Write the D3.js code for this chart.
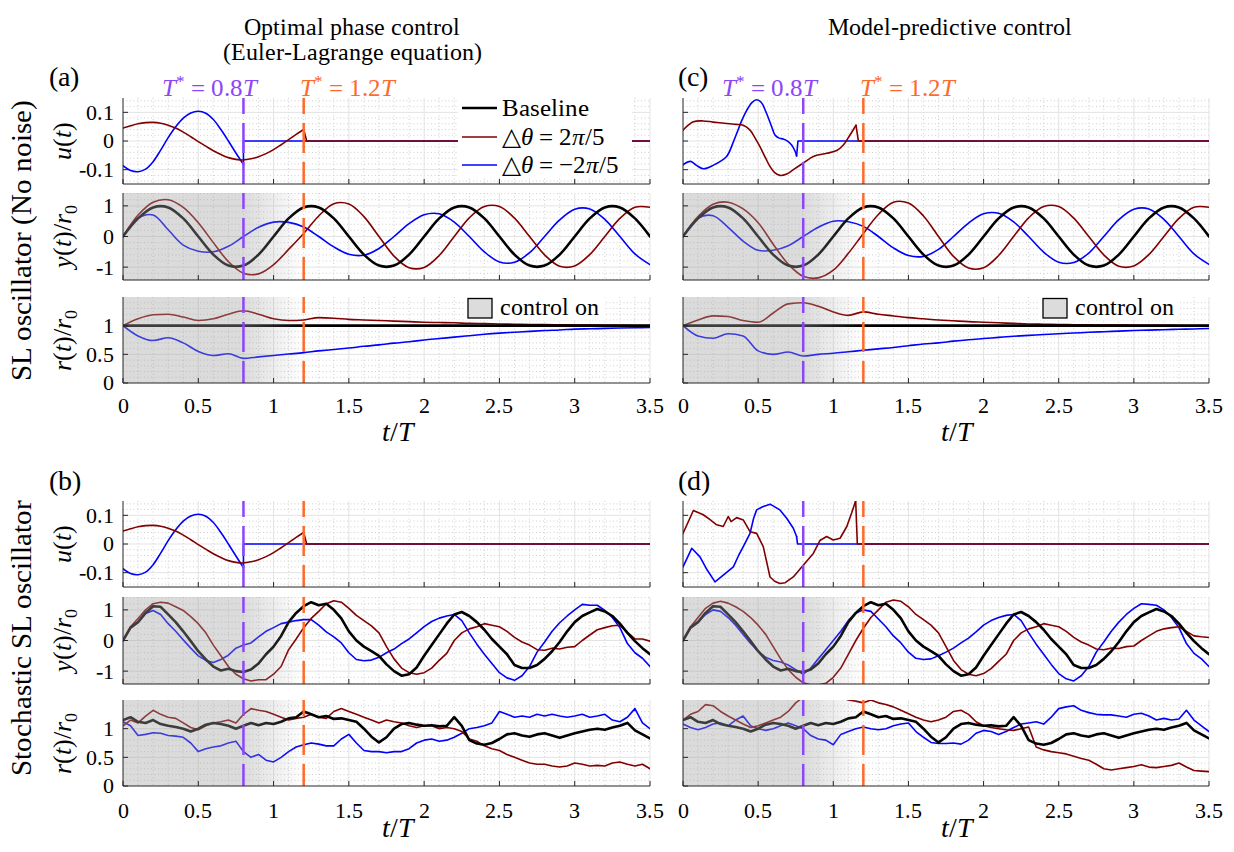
<!DOCTYPE html>
<html><head><meta charset="utf-8">
<script src="https://cdn.jsdelivr.net/npm/d3@7"></script>
<style>
@font-face{font-family:"RefSerif";src:local("Liberation Serif"),local("LiberationSerif"),local("LiberationSerif-Regular"),local("DejaVu Serif"),local("DejaVuSerif"),local("Noto Serif"),local("NotoSerif-Regular"),local("Times New Roman"),local("Tinos");font-style:normal;}
@font-face{font-family:"RefSerif";src:local("Liberation Serif Italic"),local("LiberationSerif-Italic"),local("DejaVu Serif Italic"),local("DejaVuSerif-Italic"),local("Noto Serif Italic"),local("NotoSerif-Italic"),local("Times New Roman Italic");font-style:italic;}
body{margin:0;background:#fff;}
svg text{font-family:"RefSerif","Liberation Serif","DejaVu Serif","Noto Serif","Nimbus Roman","FreeSerif","Times",serif;}
</style>
</head><body>
<svg id="chart" width="1234" height="852"></svg>
<script>
// ---------------- DATA ----------------
const tGrid10 = d3.range(36).map(i => i / 10);   // 0 .. 3.5 step 0.1
const tGrid05 = d3.range(71).map(i => i / 20);   // 0 .. 3.5 step 0.05
const xTicks = [0, 0.5, 1, 1.5, 2, 2.5, 3, 3.5];
const xTickLabels = ["0", "0.5", "1", "1.5", "2", "2.5", "3", "3.5"];
const uTicks = [-0.1, 0, 0.1], uTickLabels = ["-0.1", "0", "0.1"];
const yTicks = [-1, 0, 1], yTickLabels = ["-1", "0", "1"];
const rTicks = [0, 0.5, 1], rTickLabels = ["0", "0.5", "1"];
const switchTimes = [0.8, 1.2];
const legendLabels = ["Baseline", "△θ = 2π/5", "△θ = −2π/5"];

// Control input u(t): optimal phase control (panels a, b)
const uOptRed = [[0,.045],[.05,.053],[.1,.06],[.15,.064],[.2,.065],[.25,.062],[.3,.055],[.35,.045],[.4,.031],[.45,.015],[.5,-.002],[.55,-.018],[.6,-.034],[.65,-.047],[.7,-.058],[.75,-.064],[.8,-.066],[.85,-.062],[.9,-.055],[.95,-.044],[1.0,-.03],[1.05,-.013],[1.1,.005],[1.15,.023],[1.2,.04]];
const uOptRedTail = [[1.2,.04],[1.22,0],[3.5,0]];
const uOptBlue = [[0,-.086],[.05,-.103],[.1,-.107],[.15,-.098],[.2,-.072],[.25,-.032],[.3,.012],[.35,.05],[.4,.08],[.45,.098],[.5,.104],[.55,.097],[.6,.075],[.65,.04],[.7,0],[.75,-.042],[.8,-.082]];
const uOptBlueTail = [[.8,-.082],[.8,0],[3.5,0]];

// Control input u(t): MPC, no noise (panel c)
const uMpcRed = [[0,.038],[.069,.067],[.135,.07],[.2,.066],[.29,.061],[.35,.058],[.401,.055],[.446,.038],[.48,.01],[.512,-.02],[.55,-.06],[.579,-.089],[.61,-.11],[.645,-.12],[.69,-.115],[.734,-.1],[.8,-.077],[.867,-.054],[.956,-.043],[1.023,-.033],[1.067,-.014],[1.11,.02],[1.151,.055]];
const uMpcRedTail = [[1.151,.055],[1.167,0],[3.5,0]];
const uMpcBlue = [[0,-.083],[.05,-.071],[.09,-.085],[.135,-.097],[.2,-.085],[.29,-.054],[.33,-.01],[.357,.026],[.39,.07],[.424,.107],[.46,.135],[.49,.144],[.52,.135],[.557,.095],[.59,.05],[.612,.021],[.64,.01],[.667,.007],[.7,-.002],[.723,-.014],[.745,-.035],[.756,-.052]];
const uMpcBlueTail = [[.756,-.052],[.765,0],[3.5,0]];

// Control input u(t): MPC, stochastic (panel d)
const uMpcNoisyRed = [[0,.037],[.069,.117],[.1,.11],[.135,.102],[.18,.085],[.224,.067],[.268,.061],[.301,.096],[.32,.078],[.357,.092],[.401,.084],[.446,.043],[.49,.037],[.534,-.009],[.56,-.07],[.579,-.115],[.61,-.13],[.645,-.138],[.68,-.135],[.734,-.115],[.8,-.074],[.867,-.033],[.911,.012],[.956,.026],[1.0,.014],[1.045,.02],[1.09,.061],[1.122,.108],[1.149,.151]];
const uMpcNoisyRedTail = [[1.149,.151],[1.16,0],[3.5,0]];
const uMpcNoisyBlue = [[0,-.08],[.058,-.015],[.113,-.045],[.16,-.09],[.213,-.132],[.268,-.109],[.335,-.08],[.37,-.04],[.401,-.009],[.446,.037],[.47,.09],[.49,.119],[.53,.13],[.579,.139],[.645,.119],[.69,.09],[.734,.055],[.756,.026]];
const uMpcNoisyBlueTail = [[.756,.026],[.762,0],[3.5,0]];

// Deterministic oscillator, sampled at tGrid10
const yBase = [0,.59,.95,.95,.59,0,-.59,-.95,-.95,-.59,0,.59,.95,.95,.59,0,-.59,-.95,-.95,-.59,0,.59,.95,.95,.59,0,-.59,-.95,-.95,-.59,0,.59,.95,.95,.59,0];
const rBase = [1,1,1,1,1,1,1,1,1,1,1,1,1,1,1,1,1,1,1,1,1,1,1,1,1,1,1,1,1,1,1,1,1,1,1,1];
const yOptRed = [0,.7,1.12,1.2,.95,.45,-.2,-.82,-1.2,-1.22,-.92,-.42,.1,.67,1.07,1.06,.65,0,-.64,-1.02,-1.01,-.62,0,.61,.98,.98,.6,0,-.6,-.97,-.96,-.59,0,.59,.955,.955];
const yOptBlue = [0,.6,.7,.22,-.28,-.48,-.5,-.32,0,.3,.47,.46,.31,0,-.34,-.58,-.61,-.39,0,.42,.71,.74,.47,0,-.5,-.83,-.84,-.53,0,.54,.89,.9,.56,0,-.57,-.92];
const rOptRed = [1,1.12,1.19,1.2,1.15,1.09,1.12,1.2,1.26,1.2,1.12,1.09,1.1,1.14,1.13,1.11,1.1,1.09,1.08,1.07,1.06,1.055,1.05,1.04,1.035,1.03,1.025,1.02,1.018,1.015,1.012,1.01,1.008,1.006,1.004,1.003];
const rOptBlue = [1,.82,.74,.79,.7,.55,.48,.51,.43,.455,.48,.505,.53,.56,.585,.61,.64,.665,.695,.72,.75,.775,.8,.825,.85,.87,.885,.9,.915,.925,.94,.946,.952,.958,.964,.97];
const yMpcRed = [0,.65,1.05,1.12,.9,.45,-.25,-.9,-1.3,-1.35,-1.1,-.55,.1,.72,1.12,1.09,.67,0,-.65,-1.03,-1.02,-.62,0,.61,.98,.98,.6,0,-.6,-.97,-.96,-.59,0,.59,.955,.955];
const yMpcBlue = [0,.6,.68,.3,-.15,-.45,-.45,-.3,0,.3,.5,.48,.33,0,-.37,-.62,-.65,-.42,0,.44,.74,.76,.48,0,-.51,-.84,-.85,-.54,0,.55,.89,.9,.56,0,-.57,-.91];
const rMpcRed = [1,1.1,1.17,1.16,1.09,1.06,1.22,1.38,1.4,1.34,1.24,1.18,1.24,1.2,1.17,1.14,1.12,1.1,1.085,1.07,1.06,1.05,1.04,1.03,1.025,1.02,1.017,1.014,1.012,1.01,1.008,1.006,1.005,1.004,1.003,1.002];
const rMpcBlue = [1,.82,.78,.86,.82,.56,.5,.54,.47,.5,.52,.545,.57,.595,.62,.65,.68,.7,.73,.755,.775,.795,.815,.83,.845,.86,.872,.884,.895,.905,.915,.922,.93,.937,.943,.95];

// Stochastic oscillator, sampled at tGrid05
const ySBase = [0,.42,.6,.9,1.12,1.1,.85,.6,.3,-.02, -.35,-.62,-.85,-.98,-.92,-1.0,-1.03,-.95,-.75,-.45, -.2,.15,.6,.9,1.12,1.25,1.15,1.2,1.0,.72, .3,0,-.2,-.35,-.5,-.78,-1.0,-1.15,-1.1,-.88, -.5,-.15,.2,.55,.85,.93,.8,.6,.35,.05, -.2,-.45,-.8,-.9,-.9,-.8,-.6,-.35,-.05,.3, .6,.8,.92,1.03,.95,.8,.55,.25,-.02,-.25, -.45];
const rSBase = [1.15,1.2,1.12,1.1,1.15,1.08,1.05,1.03,1.0,.95, 1.0,1.07,1.1,1.08,1.05,1.0,1.05,1.1,1.06,1.1, 1.08,1.12,1.18,1.2,1.3,1.25,1.2,1.22,1.17,1.18, 1.15,1.12,1.0,.86,.76,.85,1.0,1.08,1.1,1.07, 1.05,1.06,1.04,1.05,1.2,1.05,.8,.74,.72,.75, .82,.9,.92,.88,.86,.9,.92,.88,.84,.88, .92,.95,.98,1.0,.98,1.02,1.05,1.1,.97,.9, .83];
const ySOptRed = [0,.45,.72,1.0,1.2,1.25,1.22,1.1,.98,.78, .55,.25,-.15,-.5,-.85,-1.1,-1.25,-1.32,-1.28,-1.28, -1.1,-.85,-.3,.05,.42,.72,.95,1.2,1.3,1.25, 1.05,.82,.65,.48,.25,-.2,-.6,-.9,-1.05,-1.1, -1.05,-.9,-.65,-.42,0,.25,.38,.45,.55,.5, .45,.3,.1,-.05,-.15,-.3,-.32,-.25,-.28,-.22, -.2,0,.18,.35,.42,.48,.5,.27,.05,.05, -.02];
const ySOptBlue = [0,.42,.6,.88,.98,.85,.55,.3,.02,-.25, -.5,-.65,-.72,-.62,-.48,-.25,-.15,-.08,.12,.3, .42,.55,.6,.65,.68,.68,.5,.28,.12,-.08, -.4,-.62,-.66,-.64,-.55,-.4,-.28,-.1,.05,.25, .45,.62,.73,.8,.85,.65,.25,-.12,-.45,-.75, -1.05,-1.22,-1.3,-1.15,-.85,-.38,-.05,.3,.58,.8, 1.0,1.18,1.15,1.15,.98,.75,.42,-.1,-.4,-.58, -.85];
const rSOptRed = [1.05,1.15,1.1,1.22,1.32,1.25,1.2,1.18,1.1,1.02, .98,1.05,1.1,1.12,1.15,1.1,1.25,1.35,1.32,1.3, 1.25,1.2,1.15,1.18,1.2,1.25,1.2,1.18,1.3,1.35, 1.3,1.25,1.2,1.15,1.1,1.15,1.12,1.1,1.05,1.02, 1.05,1.05,1.0,1.02,1.0,.95,.82,.78,.7,.65, .62,.55,.5,.45,.4,.38,.38,.35,.33,.35, .4,.38,.35,.36,.35,.4,.42,.38,.35,.38, .3];
const rSOptBlue = [1.12,1.05,.88,.9,.93,.92,.88,.87,.85,.75, .6,.65,.68,.7,.75,.78,.6,.5,.55,.45, .42,.5,.6,.68,.72,.75,.73,.7,.7,.82, .9,.75,.62,.6,.6,.58,.6,.6,.65,.75, .8,.82,.78,.8,.85,.92,1.0,1.02,1.05,1.1, 1.3,1.25,1.2,1.22,1.2,1.25,1.22,1.25,1.22,1.2, 1.22,1.25,1.2,1.22,1.25,1.15,1.12,1.2,1.35,1.1, 1.0];
const ySMpcRed = [0,.45,.75,1.05,1.22,1.28,1.22,1.1,.95,.75, .5,.2,-.2,-.6,-.95,-1.2,-1.38,-1.45,-1.45,-1.4, -1.2,-.9,-.45,0,.4,.75,1.0,1.25,1.32,1.28, 1.1,.85,.68,.5,.25,-.2,-.65,-.95,-1.1,-1.15, -1.08,-.92,-.68,-.45,0,.25,.38,.45,.55,.5, .45,.3,.1,-.05,-.15,-.28,-.3,-.25,-.26,-.2, -.18,0,.15,.3,.38,.42,.45,.3,.15,.12, .1];
const ySMpcBlue = [0,.42,.62,.85,1.0,.95,.75,.5,.2,-.1, -.35,-.55,-.65,-.7,-.8,-.95,-1.1,-.9,-.6,-.3, 0,.3,.65,.9,1.0,.95,.7,.45,.15,-.08, -.38,-.58,-.62,-.6,-.5,-.38,-.25,-.08,.08,.28, .5,.65,.75,.82,.85,.65,.25,-.12,-.45,-.78, -1.08,-1.25,-1.32,-1.15,-.85,-.38,-.05,.3,.6,.85, 1.05,1.2,1.18,1.15,1.0,.75,.42,-.1,-.42,-.6, -.85];
const rSMpcRed = [1.15,1.25,1.3,1.42,1.4,1.3,1.22,1.15,1.08,1.02, 1.05,1.1,1.15,1.2,1.3,1.45,1.55,1.58,1.6,1.58, 1.56,1.55,1.5,1.48,1.45,1.5,1.45,1.42,1.38,1.32, 1.26,1.2,1.15,1.12,1.15,1.2,1.3,1.32,1.25,1.12, 1.05,1.02,1.0,.98,.97,1.0,1.03,.68,.63,.6, .58,.56,.52,.48,.45,.38,.3,.28,.3,.32, .34,.37,.33,.32,.34,.36,.4,.33,.27,.26, .25];
const rSMpcBlue = [1.08,1.02,.98,1.02,1.08,1.1,1.05,1.15,1.22,1.05, 1.0,.97,1.0,1.05,1.1,1.05,1.0,.88,.82,.8, .72,.9,.95,1.0,1.03,1.0,.98,1.0,1.05,1.08, 1.1,.95,.85,.76,.74,.74,.75,.73,.8,.92, .97,.95,.9,.95,1.02,1.08,1.1,1.12,1.08,1.2, 1.35,1.38,1.4,1.32,1.28,1.25,1.24,1.24,1.22,1.2, 1.25,1.27,1.22,1.15,1.18,1.15,1.17,1.32,1.15,1.05, .95];

// ---------------- STYLE / LAYOUT ----------------
const C = {black:"#000000", red:"#800000", blue:"#0000ff", purple:"#8c46fa", orange:"#ff6a2a", axis:"#262626"};
const X0 = [123, 683], X1 = [650, 1209];
const rows = [
  {u:[98,184], y:[193,280], r:[297,383], tickY:413, labY:441},
  {u:[501,587], y:[597,684], r:[700,786], tickY:818, labY:837}
];
const kinds = {
  u:{dom:[-0.15,0.15], ticks:uTicks, labels:uTickLabels, minor:d3.range(-7,8).map(i=>i*0.02)},
  y:{dom:[-1.42,1.42], ticks:yTicks, labels:yTickLabels, minor:d3.range(-7,8).map(i=>i*0.2)},
  r:{dom:[0,1.5], ticks:rTicks, labels:rTickLabels, minor:d3.range(1,15).map(i=>i*0.1)}
};
const svg = d3.select("#chart");
const defs = svg.append("defs");

function draw() {
// font scale so that text widths match the reference
const probe = svg.append("text").attr("font-size", 25).text("Optimal phase control");
const FK = Math.min(1.1, Math.max(0.8, 222 / probe.node().getComputedTextLength()));
probe.remove();
const fs = s => s * FK;

// shading gradient
const grad = defs.append("linearGradient").attr("id","shade").attr("x1","0").attr("x2","1").attr("y1","0").attr("y2","0");
grad.append("stop").attr("offset","0").attr("stop-color","#a0a0a0").attr("stop-opacity",0.38);
grad.append("stop").attr("offset",String(0.8/1.2)).attr("stop-color","#a0a0a0").attr("stop-opacity",0.38);
grad.append("stop").attr("offset","1").attr("stop-color","#a0a0a0").attr("stop-opacity",0);

function rich(parent, x, y, parts, size, opts = {}) {
  size = fs(size);
  const t = parent.append("text").attr("x", x).attr("y", y).attr("font-size", size)
    .attr("text-anchor", opts.anchor || "start").attr("fill", opts.fill || "#000");
  if (opts.rotate) t.attr("transform", `rotate(-90,${x},${y})`);
  let shift = 0;
  parts.forEach(p => {
    const [s, st] = Array.isArray(p) ? p : [p, ""];
    const ts = t.append("tspan").text(s);
    let ns = 0;
    if (st.includes("i")) ts.attr("font-style", "italic");
    if (st.includes("sub")) { ns = size * 0.25; ts.attr("font-size", size * 0.7); }
    if (st.includes("sup")) { ns = -size * 0.38; ts.attr("font-size", size * 0.7); }
    if (ns !== shift) ts.attr("dy", ns - shift);
    shift = ns;
  });
  return t;
}

let clipId = 0;
function subplot(col, row, kind, series) {
  const [top, bot] = rows[row][kind];
  const K = kinds[kind];
  const x = d3.scaleLinear().domain([0, 3.5]).range([X0[col], X1[col]]);
  const y = d3.scaleLinear().domain(K.dom).range([bot, top]);
  const g = svg.append("g");
  const cid = "clip" + (clipId++);
  defs.append("clipPath").attr("id", cid).append("rect")
    .attr("x", X0[col]).attr("y", top).attr("width", X1[col] - X0[col]).attr("height", bot - top);
  const xMinor = d3.range(1, 35).map(i => i / 10).filter(v => Math.abs(v * 2 - Math.round(v * 2)) > 1e-6);
  g.selectAll(".mx").data(xMinor).join("line").attr("x1", d => x(d)).attr("x2", d => x(d)).attr("y1", top).attr("y2", bot)
    .attr("stroke", "#c4c4c4").attr("stroke-width", 0.8).attr("stroke-dasharray", "1,2.5");
  const yMinor = K.minor.filter(v => !K.ticks.some(tk => Math.abs(tk - v) < 1e-6) && v > K.dom[0] + 1e-6 && v < K.dom[1] - 1e-6);
  g.selectAll(".my").data(yMinor).join("line").attr("y1", d => y(d)).attr("y2", d => y(d)).attr("x1", X0[col]).attr("x2", X1[col])
    .attr("stroke", "#c4c4c4").attr("stroke-width", 0.8).attr("stroke-dasharray", "1,2.5");
  g.selectAll(".gx").data(xTicks.slice(1)).join("line").attr("x1", d => x(d)).attr("x2", d => x(d)).attr("y1", top).attr("y2", bot)
    .attr("stroke", "#e3e3e3").attr("stroke-width", 1);
  g.selectAll(".gy").data(K.ticks.filter(v => v > K.dom[0])).join("line").attr("y1", d => y(d)).attr("y2", d => y(d)).attr("x1", X0[col]).attr("x2", X1[col])
    .attr("stroke", "#e3e3e3").attr("stroke-width", 1);
  const lg = g.append("g").attr("clip-path", `url(#${cid})`);
  series.forEach(s => {
    const line = d3.line().x(d => x(d[0])).y(d => y(d[1])).curve(s.curve || d3.curveLinear);
    lg.append("path").attr("d", line(s.pts)).attr("fill", "none").attr("stroke", s.color)
      .attr("stroke-width", s.width).attr("stroke-linejoin", "round").attr("stroke-linecap", "round");
  });
  if (kind !== "u") {
    g.append("rect").attr("x", x(0)).attr("y", top).attr("width", x(1.2) - x(0)).attr("height", bot - top).attr("fill", "url(#shade)");
  }
  [[switchTimes[0], C.purple], [switchTimes[1], C.orange]].forEach(([tv, c]) => {
    g.append("line").attr("x1", x(tv)).attr("x2", x(tv)).attr("y1", top).attr("y2", bot)
      .attr("stroke", c).attr("stroke-width", 2.5).attr("stroke-dasharray", "30,9").attr("stroke-dashoffset", 14);
  });
  g.append("line").attr("x1", X0[col]).attr("x2", X0[col]).attr("y1", top).attr("y2", bot).attr("stroke", C.axis).attr("stroke-width", 1);
  g.append("line").attr("x1", X0[col]).attr("x2", X1[col]).attr("y1", bot).attr("y2", bot).attr("stroke", C.axis).attr("stroke-width", 1);
  g.selectAll(".tx").data(xTicks).join("line").attr("x1", d => x(d)).attr("x2", d => x(d)).attr("y1", bot).attr("y2", bot - 5)
    .attr("stroke", C.axis);
  g.selectAll(".ty").data(K.ticks).join("line").attr("x1", X0[col]).attr("x2", X0[col] + 5).attr("y1", d => y(d)).attr("y2", d => y(d))
    .attr("stroke", C.axis);
  if (col === 0) {
    K.ticks.forEach((tk, i) => {
      g.append("text").attr("x", X0[col] - 9).attr("y", y(tk)).attr("dy", "0.34em").attr("text-anchor", "end")
        .attr("font-size", fs(22)).text(K.labels[i]);
    });
  }
  if (kind === "r") {
    xTicks.forEach((tk, i) => {
      g.append("text").attr("x", x(tk)).attr("y", rows[row].tickY).attr("text-anchor", "middle").attr("font-size", fs(22)).text(xTickLabels[i]);
    });
    rich(g, (X0[col] + X1[col]) / 2 + 11, rows[row].labY, [["t", "i"], "/", ["T", "i"]], 28, {anchor: "middle"});
  }
  return {x, y, g, top, bot};
}

const P = (arrT, arrV) => arrT.map((t, i) => [t, arrV[i]]);
const cat = d3.curveCatmullRom.alpha(0.5);
const mono = d3.curveMonotoneX;

function uSeries(red, redTail, blue, blueTail, curve) {
  return [
    {pts: blue, color: C.blue, width: 1.6, curve},
    {pts: blueTail, color: C.blue, width: 1.6},
    {pts: red, color: C.red, width: 1.6, curve},
    {pts: redTail, color: C.red, width: 1.6}
  ];
}
function ySeries(tg, red, blue, base, curve, bw) {
  return [
    {pts: P(tg, blue), color: C.blue, width: 1.6, curve},
    {pts: P(tg, red), color: C.red, width: 1.6, curve},
    {pts: P(tg, base), color: C.black, width: bw, curve}
  ];
}

const panels = [
  {col:0, row:0, label:"(a)", u:uSeries(uOptRed,uOptRedTail,uOptBlue,uOptBlueTail,cat),
   y:ySeries(tGrid10,yOptRed,yOptBlue,yBase,cat,2.6), r:ySeries(tGrid10,rOptRed,rOptBlue,rBase,mono,2.6)},
  {col:1, row:0, label:"(c)", u:uSeries(uMpcRed,uMpcRedTail,uMpcBlue,uMpcBlueTail,cat),
   y:ySeries(tGrid10,yMpcRed,yMpcBlue,yBase,cat,2.6), r:ySeries(tGrid10,rMpcRed,rMpcBlue,rBase,mono,2.6)},
  {col:0, row:1, label:"(b)", u:uSeries(uOptRed,uOptRedTail,uOptBlue,uOptBlueTail,cat),
   y:ySeries(tGrid05,ySOptRed,ySOptBlue,ySBase,d3.curveLinear,2.6), r:ySeries(tGrid05,rSOptRed,rSOptBlue,rSBase,d3.curveLinear,2.6)},
  {col:1, row:1, label:"(d)", u:uSeries(uMpcNoisyRed,uMpcNoisyRedTail,uMpcNoisyBlue,uMpcNoisyBlueTail,d3.curveLinear),
   y:ySeries(tGrid05,ySMpcRed,ySMpcBlue,ySBase,d3.curveLinear,2.6), r:ySeries(tGrid05,rSMpcRed,rSMpcBlue,rSBase,d3.curveLinear,2.6)}
];

panels.forEach(p => {
  const su = subplot(p.col, p.row, "u", p.u);
  subplot(p.col, p.row, "y", p.y);
  subplot(p.col, p.row, "r", p.r);
  svg.append("text").attr("x", p.col === 0 ? 49 : 678).attr("y", p.row === 0 ? 86 : 490).attr("font-size", fs(28)).text(p.label);
  if (p.row === 0) {
    rich(svg, su.x(0.8) - 34, 96, [["T", "i"], ["*", "sup"], " = 0.8", ["T", "i"]], 25, {anchor: "middle", fill: C.purple});
    rich(svg, su.x(1.2) + 44, 96, [["T", "i"], ["*", "sup"], " = 1.2", ["T", "i"]], 25, {anchor: "middle", fill: C.orange});
    const bx = p.col === 0 ? 468 : 1043;
    svg.append("rect").attr("x", bx - 3).attr("y", 297).attr("width", 140).attr("height", 23).attr("fill", "#fff");
    svg.append("rect").attr("x", bx).attr("y", 298.5).attr("width", 24).attr("height", 19.5).attr("fill", "#dcdcdc").attr("stroke", "#000").attr("stroke-width", 1.3);
    svg.append("text").attr("x", bx + 32).attr("y", 315).attr("font-size", fs(24.5)).text("control on");
  }
});

(function () {
  const lg = svg.append("g");
  lg.append("rect").attr("x", 458).attr("y", 97.5).attr("width", 174).attr("height", 80).attr("fill", "#fff");
  const items = [
    {c: C.black, w: 2.6, y: 108, parts: [legendLabels[0]]},
    {c: C.red, w: 1.6, y: 137, parts: ["△", ["θ", "i"], " = 2", ["π", "i"], "/5"]},
    {c: C.blue, w: 1.6, y: 165, parts: ["△", ["θ", "i"], " = −2", ["π", "i"], "/5"]}
  ];
  items.forEach(it => {
    lg.append("line").attr("x1", 462).attr("x2", 497).attr("y1", it.y).attr("y2", it.y).attr("stroke", it.c).attr("stroke-width", it.w);
    rich(lg, 502, it.y + 8, it.parts, 25);
  });
})();

svg.append("text").attr("x", 352).attr("y", 35).attr("text-anchor", "middle").attr("font-size", fs(24.5)).text("Optimal phase control");
svg.append("text").attr("x", 352).attr("y", 60).attr("text-anchor", "middle").attr("font-size", fs(24.5)).text("(Euler-Lagrange equation)");
svg.append("text").attr("x", 950).attr("y", 35).attr("text-anchor", "middle").attr("font-size", fs(24.5)).text("Model-predictive control");

rows.forEach(r => {
  rich(svg, 71, (r.u[0] + r.u[1]) / 2, [["u", "i"], "(", ["t", "i"], ")"], 26, {anchor: "middle", rotate: true});
  rich(svg, 71, (r.y[0] + r.y[1]) / 2, [["y", "i"], "(", ["t", "i"], ")/", ["r", "i"], ["0", "sub"]], 26, {anchor: "middle", rotate: true});
  rich(svg, 71, (r.r[0] + r.r[1]) / 2, [["r", "i"], "(", ["t", "i"], ")/", ["r", "i"], ["0", "sub"]], 26, {anchor: "middle", rotate: true});
});
rich(svg, 31, 240, ["SL oscillator (No noise)"], 29, {anchor: "middle", rotate: true});
rich(svg, 31, 638, ["Stochastic SL oscillator"], 29, {anchor: "middle", rotate: true});
}

// make sure the serif face (if any) is loaded before measuring
if (document.fonts && document.fonts.load) {
  Promise.all([document.fonts.load('25px "RefSerif"'), document.fonts.load('italic 25px "RefSerif"')])
    .catch(() => null).then(() => draw());
} else { draw(); }
</script>
</body></html>
